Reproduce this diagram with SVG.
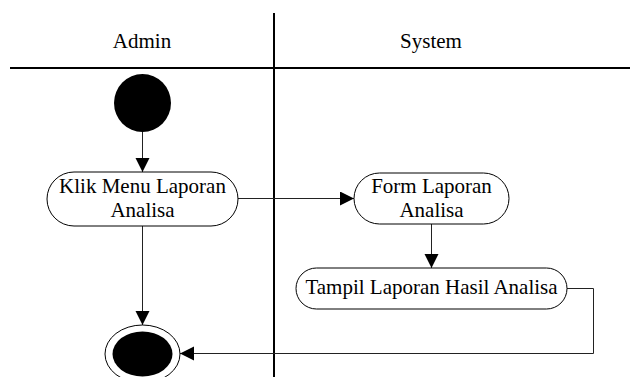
<svg xmlns="http://www.w3.org/2000/svg" width="630" height="377" viewBox="0 0 630 377">
<style>
.lbl{font-size:21px;fill:#000;text-anchor:middle}
.lane{stroke:#000;stroke-width:2;fill:none}
.node{fill:#fff;stroke:#000;stroke-width:1}
.conn{stroke:#222;stroke-width:1;fill:none;marker-end:url(#arr)}
</style>
<defs>
<marker id="arr" markerUnits="userSpaceOnUse" markerWidth="16" markerHeight="16" refX="14" refY="7" orient="auto">
<path d="M0,0 L14,7 L0,14 Z" fill="#000"/>
</marker>
</defs>
<rect width="630" height="377" fill="#fff"/>
<g id="swimlanes" font-family="'Liberation Serif', 'Times New Roman', 'DejaVu Serif', serif">
<line class="lane" x1="274" y1="13" x2="274" y2="377"/>
<line class="lane" x1="10" y1="68" x2="630" y2="68"/>
<text class="lbl" x="142" y="48">Admin</text>
<text class="lbl" x="431" y="48">System</text>
</g>
<g id="connectors">
<line class="conn" x1="142.5" y1="131" x2="142.5" y2="172"/>
<line class="conn" x1="238" y1="198.5" x2="354" y2="198.5"/>
<line class="conn" x1="431.5" y1="224" x2="431.5" y2="268"/>
<line class="conn" x1="142.5" y1="226" x2="142.5" y2="325"/>
<polyline class="conn" points="567,288.5 593.5,288.5 593.5,353.5 180,353.5"/>
</g>
<g id="start">
<ellipse cx="142.5" cy="103" rx="28.5" ry="29" fill="#000"/>
</g>
<g id="klik-menu" font-family="'Liberation Serif', 'Times New Roman', 'DejaVu Serif', serif">
<rect class="node" x="47" y="172" width="191" height="54" rx="27"/>
<text class="lbl" x="142.5" y="193">Klik Menu Laporan</text>
<text class="lbl" x="142.5" y="217">Analisa</text>
</g>
<g id="form-laporan" font-family="'Liberation Serif', 'Times New Roman', 'DejaVu Serif', serif">
<rect class="node" x="354" y="173" width="155" height="51" rx="25.5"/>
<text class="lbl" x="431.5" y="193">Form Laporan</text>
<text class="lbl" x="431.5" y="217">Analisa</text>
</g>
<g id="tampil-laporan" font-family="'Liberation Serif', 'Times New Roman', 'DejaVu Serif', serif">
<rect class="node" x="296" y="268" width="271" height="41" rx="20.5"/>
<text class="lbl" x="431.5" y="294">Tampil Laporan Hasil Analisa</text>
</g>
<g id="end">
<ellipse cx="142.5" cy="354" rx="37.5" ry="29" fill="#fff" stroke="#000" stroke-width="1"/>
<ellipse cx="142.5" cy="354" rx="30" ry="22.5" fill="#000"/>
</g>
</svg>
